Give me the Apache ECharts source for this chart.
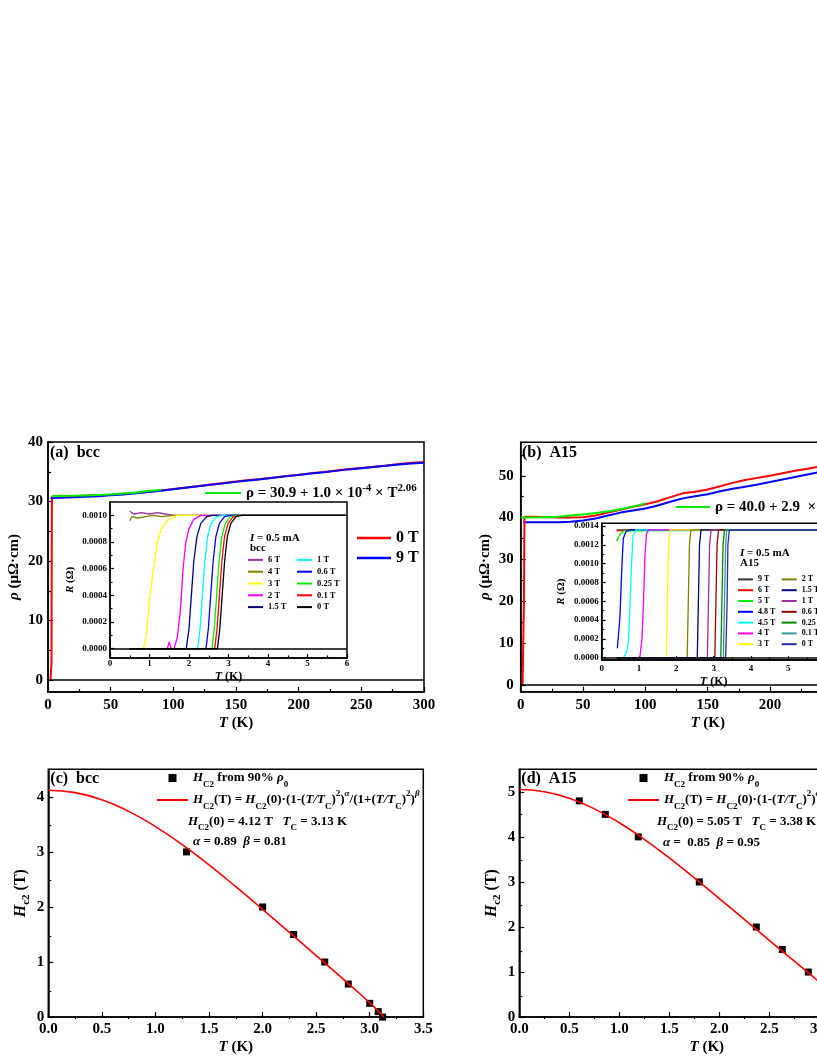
<!DOCTYPE html>
<html>
<head>
<meta charset="utf-8">
<title>rho(T) and Hc2(T) of bcc and A15</title>
<script src="https://cdn.jsdelivr.net/npm/echarts@6.0.0/dist/echarts.min.js"></script>
<style>
  html, body { margin: 0; padding: 0; width: 817px; height: 1058px; overflow: hidden; background: #fff; }
  .layer { position: absolute; left: 0; top: 0; width: 920px; height: 1058px; }
</style>
</head>
<body>
<div class="layer" id="chartA"></div>
<div class="layer" id="insetA"></div>
<div class="layer" id="chartB"></div>
<div class="layer" id="insetB"></div>
<div class="layer" id="chartC"></div>
<div class="layer" id="chartD"></div>
<script>
const FONT = '"Liberation Serif", "Times New Roman", serif'

// ---- (a) bcc : rho(T), 0 T and 9 T ----
const tempA0 = [2.0, 2.6, 2.8, 2.9, 3.0, 3.2, 10, 20, 30, 40, 50, 60, 70, 80, 90, 100, 110, 120, 130, 140, 150,
  160, 170, 180, 190, 200, 210, 220, 230, 240, 250, 260, 270, 280, 290, 300]
const rhoA0 = [0, 0, 3, 14, 27, 30.8, 30.95, 30.9, 31.0, 31.05, 31.15, 31.3, 31.45, 31.65, 31.85, 32.1, 32.35, 32.6,
  32.85, 33.1, 33.35, 33.6, 33.8, 34.05, 34.3, 34.5, 34.75, 34.95, 35.2, 35.45, 35.65, 35.85, 36.05, 36.3, 36.5, 36.65]
const tempA9 = [2, 10, 20, 30, 40, 50, 60, 70, 80, 90, 100, 110, 120, 130, 140, 150, 160, 170, 180, 190, 200,
  210, 220, 230, 240, 250, 260, 270, 280, 290, 300]
const rhoA9 = [30.6, 30.65, 30.7, 30.8, 30.9, 31.05, 31.2, 31.4, 31.6, 31.8, 32.05, 32.3, 32.55, 32.8, 33.05, 33.3,
  33.55, 33.75, 34.0, 34.25, 34.45, 34.7, 34.9, 35.15, 35.4, 35.6, 35.8, 36.0, 36.2, 36.4, 36.5]
const fitTempA = [3, 20, 40, 60, 80, 90]
const fitRhoA = [30.9, 30.95, 31.1, 31.35, 31.75, 31.95]

// ---- (b) A15 : rho(T) ----
const tempB0 = [1.5, 2.2, 2.6, 3.0, 10, 20, 30, 40, 50, 60, 70, 80, 90, 100, 110, 120, 130, 140, 150, 160, 170,
  180, 190, 200, 210, 220, 230, 240]
const rhoB0 = [0, 0, 20, 40.2, 40.2, 40.1, 40.0, 40.0, 40.1, 40.5, 41.2, 41.9, 42.6, 43.2, 43.9, 44.9, 45.8, 46.2,
  46.7, 47.5, 48.3, 49.0, 49.5, 50.0, 50.6, 51.2, 51.7, 52.2]
const tempB9 = [2, 10, 20, 30, 40, 50, 60, 70, 80, 90, 100, 110, 120, 130, 140, 150, 160, 170, 180, 190, 200,
  210, 220, 230, 240]
const rhoB9 = [38.9, 38.9, 38.9, 38.9, 39.0, 39.3, 39.8, 40.5, 41.2, 41.7, 42.2, 42.9, 43.8, 44.6, 45.1, 45.6,
  46.3, 46.9, 47.4, 47.9, 48.5, 49.1, 49.7, 50.3, 50.9]
const fitTempB = [0, 20, 40, 60, 80, 100]
const fitRhoB = [40.0, 40.1, 40.5, 41.1, 42.0, 43.4]

// ---- inset (a): R(T) of bcc at several fields, [T (K), R (ohm)] ----
const bccFields = ['6 T', '4 T', '3 T', '2 T', '1.5 T', '1 T', '0.6 T', '0.25 T', '0.1 T', '0 T']
const bcc6T = [[0.5, 0.00103], [0.6, 0.00101], [0.8, 0.00102], [1.0, 0.00101], [1.2, 0.00102], [1.4, 0.00101], [1.6, 0.001], [6, 0.001]]
const bcc4T = [[0.5, 0.00096], [0.55, 0.00099], [0.7, 0.00098], [0.9, 0.00099], [1.1, 0.001], [1.3, 0.00099], [1.6, 0.001], [6, 0.001]]
const bcc3T = [[0.5, 0], [0.85, 0], [0.92, 0.0001], [1.0, 0.00036], [1.1, 0.0006], [1.2, 0.0008], [1.3, 0.0009], [1.45, 0.00096], [1.7, 0.001], [6, 0.001]]
const bcc2T = [[0.5, 0], [1.45, 0], [1.5, 0.00005], [1.55, 0], [1.62, 0], [1.7, 0.00008], [1.78, 0.00028], [1.85, 0.0006], [1.92, 0.0008], [2.0, 0.0009], [2.12, 0.00097], [2.3, 0.001], [6, 0.001]]
const bcc15T = [[0.5, 0], [1.93, 0], [2.0, 0.00015], [2.06, 0.0004], [2.12, 0.00065], [2.2, 0.00084], [2.3, 0.00094], [2.45, 0.00099], [2.6, 0.001], [6, 0.001]]
const bcc1T = [[0.5, 0], [2.22, 0], [2.28, 0.00015], [2.34, 0.0004], [2.4, 0.00065], [2.47, 0.00084], [2.56, 0.00094], [2.7, 0.00099], [2.85, 0.001], [6, 0.001]]
const bcc06T = [[0.5, 0], [2.43, 0], [2.49, 0.00015], [2.55, 0.0004], [2.61, 0.00065], [2.68, 0.00084], [2.77, 0.00094], [2.9, 0.00099], [3.05, 0.001], [6, 0.001]]
const bcc025T = [[0.5, 0], [2.58, 0], [2.64, 0.00015], [2.7, 0.0004], [2.76, 0.00065], [2.83, 0.00084], [2.92, 0.00094], [3.05, 0.00099], [3.2, 0.001], [6, 0.001]]
const bcc01T = [[0.5, 0], [2.65, 0], [2.71, 0.00015], [2.77, 0.0004], [2.83, 0.00065], [2.9, 0.00084], [2.99, 0.00094], [3.12, 0.00099], [3.27, 0.001], [6, 0.001]]
const bcc0T = [[0.5, 0], [2.72, 0], [2.78, 0.00015], [2.84, 0.0004], [2.9, 0.00065], [2.97, 0.00084], [3.06, 0.00094], [3.19, 0.00099], [3.34, 0.001], [6, 0.001]]
const bccCurves = [bcc6T, bcc4T, bcc3T, bcc2T, bcc15T, bcc1T, bcc06T, bcc025T, bcc01T, bcc0T]

// ---- inset (b): R(T) of A15 ----
const a15Fields = ['9 T', '6 T', '5 T', '4.8 T', '4.5 T', '4 T', '3 T', '2 T', '1.5 T', '1 T', '0.6 T', '0.25 T', '0.1 T', '0 T']
const a159T = [[0.4, 0.00136], [6, 0.00136]]
const a156T = [[0.4, 0.00135], [1, 0.00136], [6, 0.00136]]
const a155T = [[0.4, 0.00124], [0.45, 0.00128], [0.5, 0.00132], [0.6, 0.00135], [6, 0.00136]]
const a1548T = [[0.42, 0.0001], [0.49, 0.00044], [0.54, 0.00097], [0.58, 0.00127], [0.65, 0.00134], [0.75, 0.00136], [6, 0.00136]]
const a1545T = [[0.4, 0], [0.58, 0], [0.66, 0.00005], [0.72, 0.00018], [0.76, 0.0006], [0.8, 0.001], [0.84, 0.0013], [0.92, 0.00136], [6, 0.00136]]
const a154T = [[0.4, 0], [1.02, 0], [1.08, 0.0002], [1.12, 0.0006], [1.16, 0.0011], [1.2, 0.00132], [1.26, 0.00136], [6, 0.00136]]
const a153T = [[0.4, 0], [1.73, 0], [1.76, 0.0006], [1.79, 0.0012], [1.83, 0.00136], [6, 0.00136]]
const a152T = [[0.4, 0], [2.29, 0], [2.32, 0.0006], [2.35, 0.0012], [2.39, 0.00136], [6, 0.00136]]
const a1515T = [[0.4, 0], [2.56, 0], [2.59, 0.0006], [2.62, 0.0012], [2.66, 0.00136], [6, 0.00136]]
const a151T = [[0.4, 0], [2.83, 0], [2.86, 0.0006], [2.89, 0.0012], [2.93, 0.00136], [6, 0.00136]]
const a1506T = [[0.4, 0], [3.03, 0], [3.06, 0.0006], [3.09, 0.0012], [3.13, 0.00136], [6, 0.00136]]
const a15025T = [[0.4, 0], [3.19, 0], [3.22, 0.0006], [3.25, 0.0012], [3.29, 0.00136], [6, 0.00136]]
const a1501T = [[0.4, 0], [3.26, 0], [3.29, 0.0006], [3.32, 0.0012], [3.35, 0.00136], [6, 0.00136]]
const a150T = [[0.4, 0], [3.32, 0], [3.36, 0.0006], [3.38, 0.0012], [3.42, 0.00136], [6, 0.00136]]
const a15Curves = [a159T, a156T, a155T, a1548T, a1545T, a154T, a153T, a152T, a1515T, a151T, a1506T, a15025T, a1501T, a150T]

// ---- (c) bcc and (d) A15 : Hc2(T) ----
const hTempC = [1.29, 2.0, 2.29, 2.58, 2.8, 3.0, 3.08, 3.12]
const hFieldC = [3.0, 2.0, 1.5, 1.0, 0.6, 0.25, 0.1, 0]
const fitHTempC = [0, 0.25, 0.5, 0.75, 1.0, 1.25, 1.5, 1.75, 2.0, 2.25, 2.5, 2.75, 2.9, 3.0, 3.1, 3.13]
const fitHFieldC = [4.12, 4.076, 3.945, 3.736, 3.46, 3.131, 2.763, 2.368, 1.957, 1.539, 1.118, 0.696, 0.438, 0.26, 0.07, 0]
const hTempD = [0.6, 0.86, 1.19, 1.8, 2.37, 2.63, 2.89]
const hFieldD = [4.8, 4.5, 4.0, 3.0, 2.0, 1.5, 1.0]
const fitHTempD = [0, 0.25, 0.5, 0.75, 1.0, 1.25, 1.5, 1.75, 2.0, 2.25, 2.5, 2.75, 3.0, 3.25, 3.38]
const fitHFieldD = [5.05, 5.0, 4.855, 4.622, 4.314, 3.946, 3.533, 3.091, 2.632, 2.167, 1.702, 1.24, 0.779, 0.301, 0]

// ---- ticks ----
const rhoTempTicks = [0, 50, 100, 150, 200, 250, 300]
const rhoTempMinor = [25, 75, 125, 175, 225, 275]
const rhoTicksA = [0, 10, 20, 30, 40]
const rhoMinorA = [5, 15, 25, 35]
const rhoTicksB = [0, 10, 20, 30, 40, 50]
const rhoMinorB = [5, 15, 25, 35, 45, 55]
const insetTempTicks = [0, 1, 2, 3, 4, 5, 6]
const insetTempMinor = [0.5, 1.5, 2.5, 3.5, 4.5, 5.5]
const rTicksA = [0, 0.0002, 0.0004, 0.0006, 0.0008, 0.001]
const rMinorA = [0.0001, 0.0003, 0.0005, 0.0007, 0.0009]
const rTicksB = [0, 0.0002, 0.0004, 0.0006, 0.0008, 0.001, 0.0012, 0.0014]
const rMinorB = [0.0001, 0.0003, 0.0005, 0.0007, 0.0009, 0.0011, 0.0013]
const hTempTicks = [0, 0.5, 1.0, 1.5, 2.0, 2.5, 3.0, 3.5]
const hTempMinor = [0.25, 0.75, 1.25, 1.75, 2.25, 2.75, 3.25]
const hTicksC = [0, 1, 2, 3, 4]
const hMinorC = [0.5, 1.5, 2.5, 3.5]
const hTicksD = [0, 1, 2, 3, 4, 5]
const hMinorD = [0.5, 1.5, 2.5, 3.5, 4.5]

const bccColors = ['#9b30a0', '#808000', '#ffff00', '#ff00ff', '#000080', '#00ffff', '#0000ff', '#00ee00', '#ff0000', '#000000']
const a15Colors = ['#333333', '#ff0000', '#00ee00', '#0000ff', '#00ffff', '#ff00ff', '#ffff00', '#808000', '#000080',
  '#993399', '#990000', '#008800', '#339999', '#2a2aaa']

function zip(xs, ys) {
  return xs.map((x, i) => [x, ys[i]])
}

function rich(fs, lh) {
  const b = { fontFamily: FONT, fontWeight: 'bold', color: '#000' }
  const s = Math.round(fs * 0.7)
  return {
    n: Object.assign({ fontSize: fs, lineHeight: lh }, b),
    i: Object.assign({ fontSize: fs, lineHeight: lh, fontStyle: 'italic' }, b),
    sb: Object.assign({ fontSize: s, lineHeight: s + 2, verticalAlign: 'bottom' }, b),
    sp: Object.assign({ fontSize: s, lineHeight: s + 2, verticalAlign: 'top' }, b),
    spi: Object.assign({ fontSize: s, lineHeight: s + 2, verticalAlign: 'top', fontStyle: 'italic' }, b)
  }
}

function label(text, left, cy, fs, lh) {
  return {
    text, left, top: cy - lh / 2, padding: 0,
    textStyle: { fontFamily: FONT, fontWeight: 'bold', fontSize: fs, lineHeight: lh, color: '#000', rich: rich(fs, lh) }
  }
}

const tickStyle = { color: '#000', width: 1.2 }

// one visible grid with major ticks + an identical hidden grid carrying the short minor ticks
function makeAxes(rect, bg, xs, ys) {
  const [l, t, w, h] = rect
  const grid = [
    { left: l, top: t, width: w, height: h, show: true, borderColor: '#000', borderWidth: 1.5, backgroundColor: bg },
    { left: l, top: t, width: w, height: h, show: false }
  ]
  const one = (s, g, pos) => {
    const base = { type: 'value', gridIndex: g, position: pos, min: s.min, max: s.max, splitLine: { show: false } }
    if (g === 1) {
      return Object.assign(base, {
        axisLine: { show: false, onZero: false },
        axisLabel: { show: false },
        axisTick: { show: true, inside: true, length: s.minorLen, customValues: s.minor, lineStyle: tickStyle }
      })
    }
    return Object.assign(base, {
      axisLine: { show: true, onZero: false, lineStyle: { color: '#000', width: 1.5 } },
      axisTick: { show: true, inside: true, length: s.len, customValues: s.ticks, lineStyle: tickStyle },
      axisLabel: {
        show: true, customValues: s.ticks, formatter: s.fmt, margin: s.margin,
        fontFamily: FONT, fontWeight: 'bold', fontSize: s.fs, color: '#000'
      },
      name: s.name, nameLocation: 'middle', nameGap: s.gap,
      nameTextStyle: { fontFamily: FONT, fontWeight: 'bold', fontSize: s.nfs, lineHeight: s.nfs + 4, color: '#000', rich: rich(s.nfs, s.nfs + 4) }
    })
  }
  return { grid, xAxis: [one(xs, 0, 'bottom'), one(xs, 1, 'bottom')], yAxis: [one(ys, 0, 'left'), one(ys, 1, 'left')] }
}

function line(name, data, color, width, extra) {
  return Object.assign({
    type: 'line', name, data, symbol: 'none', showSymbol: false, smooth: false,
    lineStyle: { color, width }, itemStyle: { color }, emphasis: { disabled: true }
  }, extra || {})
}

const zeroLine = {
  silent: true, symbol: 'none', label: { show: false },
  lineStyle: { color: '#000', width: 1.5, type: 'solid' }, data: [{ yAxis: 0 }]
}

function legendCol(names, left, top, fs, lh) {
  return {
    data: names, orient: 'vertical', left, top, padding: 0, itemGap: 0, itemWidth: 15, itemHeight: 2,
    icon: 'rect', selectedMode: false,
    textStyle: { fontFamily: FONT, fontWeight: 'bold', fontSize: fs, lineHeight: lh, color: '#000' }
  }
}

// ---------- (a) main ----------
const axA = makeAxes([48, 442, 376, 250], 'transparent',
  { min: 0, max: 300, ticks: rhoTempTicks, minor: rhoTempMinor, len: 5, minorLen: 3, fs: 15, margin: 6, name: '{i|T} (K)', gap: 18, nfs: 15 },
  { min: -2, max: 40, ticks: rhoTicksA, minor: rhoMinorA, len: 5, minorLen: 3, fs: 15, margin: 5, name: '{i|ρ} (μΩ·cm)', gap: 21, nfs: 15 })
const chartA = echarts.init(document.getElementById('chartA'))
chartA.setOption(Object.assign(axA, {
  animation: false,
  backgroundColor: 'transparent',
  title: [label('(a)  bcc', 50, 453, 16, 20)],
  legend: [
    {
      data: ['0 T', '9 T'], orient: 'vertical', left: 357, top: 528, padding: 0, itemGap: 0,
      itemWidth: 34, itemHeight: 2.5, icon: 'rect', selectedMode: false,
      textStyle: { fontFamily: FONT, fontWeight: 'bold', fontSize: 16, lineHeight: 20, color: '#000' }
    },
    {
      data: ['fitA'], left: 205, top: 483, padding: 0, itemWidth: 36, itemHeight: 2, icon: 'rect', selectedMode: false,
      formatter: () => '{n|ρ = 30.9 + 1.0 × 10}{sp|-4}{n| × T}{sp|2.06}',
      textStyle: { fontSize: 15, lineHeight: 20, rich: rich(15, 20) }
    }
  ],
  series: [
    line('0 T', zip(tempA0, rhoA0), '#ff0000', 2, { markLine: zeroLine }),
    line('9 T', zip(tempA9, rhoA9), '#0000ff', 2),
    line('fitA', zip(fitTempA, fitRhoA), '#00ee00', 2, { smooth: true })
  ]
}))

// ---------- (a) inset ----------
const axIA = makeAxes([110, 502, 237, 156], '#ffffff',
  { min: 0, max: 6, ticks: insetTempTicks, minor: insetTempMinor, len: 4, minorLen: 2.5, fs: 9, margin: 1, name: '{i|T} (K)', gap: 7, nfs: 12 },
  { min: -0.00007, max: 0.0011, ticks: rTicksA, minor: rMinorA, len: 4, minorLen: 2.5, fs: 9, margin: 3, fmt: v => v.toFixed(4), name: '{i|R} (Ω)', gap: 32, nfs: 11 })
const insetA = echarts.init(document.getElementById('insetA'))
insetA.setOption(Object.assign(axIA, {
  animation: false,
  backgroundColor: 'transparent',
  title: [label('{i|I}{n| = 0.5 mA}', 250, 538, 11, 13), label('bcc', 250, 548, 11, 13)],
  legend: [
    legendCol(bccFields.slice(0, 5), 248, 554, 8.5, 11.8),
    legendCol(bccFields.slice(5), 297, 554, 8.5, 11.8)
  ],
  series: bccCurves.map((c, i) => line(bccFields[i], c, bccColors[i], 1.3,
    i === bccCurves.length - 1 ? { markLine: zeroLine } : {}))
}))

// ---------- (b) main ----------
const axB = makeAxes([520.7, 442.3, 374, 249.4], 'transparent',
  { min: 0, max: 300, ticks: rhoTempTicks, minor: rhoTempMinor, len: 5, minorLen: 3, fs: 15, margin: 6, name: '{i|T} (K)', gap: 18, nfs: 15 },
  { min: -1.6, max: 58, ticks: rhoTicksB, minor: rhoMinorB, len: 5, minorLen: 3, fs: 15, margin: 7, name: '{i|ρ} (μΩ·cm)', gap: 21, nfs: 15 })
const chartB = echarts.init(document.getElementById('chartB'))
chartB.setOption(Object.assign(axB, {
  animation: false,
  backgroundColor: 'transparent',
  title: [label('(b)  A15', 522, 453, 16, 20)],
  legend: [{
    data: ['fitB'], left: 676, top: 497, padding: 0, itemWidth: 34, itemHeight: 2, icon: 'rect', selectedMode: false,
    formatter: () => '{n|ρ = 40.0 + 2.9  ×}',
    textStyle: { fontSize: 15, lineHeight: 20, rich: rich(15, 20) }
  }],
  series: [
    line('9 T', zip(tempB9, rhoB9), '#0000ff', 2),
    line('0 T', zip(tempB0, rhoB0), '#ff0000', 2, { markLine: zeroLine }),
    line('fitB', zip(fitTempB, fitRhoB), '#00ee00', 2, { smooth: true })
  ]
}))

// ---------- (b) inset ----------
const axIB = makeAxes([601.7, 523.3, 224, 136.7], '#ffffff',
  { min: 0, max: 6, ticks: insetTempTicks, minor: insetTempMinor, len: 4, minorLen: 2.5, fs: 9, margin: 4, name: '{i|T} (K)', gap: 9, nfs: 12 },
  { min: -0.000025, max: 0.00143, ticks: rTicksB, minor: rMinorB, len: 4, minorLen: 2.5, fs: 9, margin: 3, fmt: v => v.toFixed(4), name: '{i|R} (Ω)', gap: 33, nfs: 11 })
const insetB = echarts.init(document.getElementById('insetB'))
insetB.setOption(Object.assign(axIB, {
  animation: false,
  backgroundColor: 'transparent',
  title: [label('{i|I}{n| = 0.5 mA}', 740, 553, 11, 13), label('A15', 740, 563, 11, 13)],
  legend: [
    legendCol(a15Fields.slice(0, 7), 738, 574, 8, 10.8),
    legendCol(a15Fields.slice(7), 781.7, 574, 8, 10.8)
  ],
  series: a15Curves.map((c, i) => line(a15Fields[i], c, a15Colors[i], 1.3,
    i === a15Curves.length - 1 ? { markLine: zeroLine } : {}))
}))

// ---------- (c) and (d): Hc2 ----------
const fitText = '{i|H}{sb|C2}{n|(T) = }{i|H}{sb|C2}{n|(0)·(1-(}{i|T/T}{sb|C}{n|)}{sp|2}{n|)}{spi|α}' +
  '{n|/(1+(}{i|T/T}{sb|C}{n|)}{sp|2}{n|)}{spi|β}'
const ptsText = '{i|H}{sb|C2}{n| from 90% }{i|ρ}{sb|0}'

function hc2Option(rect, xmax, yTicks, yMinor, ymax, tag, legendLeft, params, pts, fit) {
  const ax = makeAxes(rect, 'transparent',
    { min: 0, max: xmax, ticks: hTempTicks, minor: hTempMinor, len: 5, minorLen: 3, fs: 15, margin: 5, fmt: v => v.toFixed(1), name: '{i|T} (K)', gap: 17, nfs: 15 },
    { min: 0, max: ymax, ticks: yTicks, minor: yMinor, len: 5, minorLen: 3, fs: 15, margin: 4, name: '{i|H}{sb|c2}{n| (T)}', gap: 17, nfs: 16 })
  return Object.assign(ax, {
    animation: false,
    backgroundColor: 'transparent',
    title: [label(tag, rect[0] + 2, 779, 16, 20)].concat(params),
    legend: [{
      data: [{ name: 'pts', icon: 'path://M0,0H10V10H0Z' }, { name: 'fit', icon: 'path://M0,0H40V2.6H0Z' }],
      orient: 'vertical', left: legendLeft, top: 767, padding: 0, itemGap: 0, itemWidth: 31, itemHeight: 8,
      selectedMode: false, symbolKeepAspect: true,
      formatter: n => (n === 'pts' ? ptsText : fitText),
      textStyle: { fontSize: 13, lineHeight: 22, rich: rich(13, 22) }
    }],
    series: [
      line('fit', fit, '#ff0000', 1.6, { smooth: true }),
      {
        type: 'scatter', name: 'pts', data: pts, symbol: 'rect', symbolSize: 7,
        itemStyle: { color: '#000', opacity: 1 }, emphasis: { disabled: true }
      }
    ]
  })
}

const chartC = echarts.init(document.getElementById('chartC'))
chartC.setOption(hc2Option([48.3, 769.3, 375, 249.7], 3.5, hTicksC, hMinorC, 4.5, '(c)  bcc', 157, [
  label('{i|H}{sb|C2}{n|(0) = 4.12 T   }{i|T}{sb|C}{n| = 3.13 K}', 188, 822, 13, 20),
  label('{i|α}{n| = 0.89  }{i|β}{n| = 0.81}', 193, 842, 13, 20)
], zip(hTempC, hFieldC), zip(fitHTempC, fitHFieldC)))

const chartD = echarts.init(document.getElementById('chartD'))
chartD.setOption(hc2Option([519.3, 769.3, 375, 249.7], 3.75, hTicksD, hMinorD, 5.5, '(d)  A15', 628, [
  label('{i|H}{sb|C2}{n|(0) = 5.05 T   }{i|T}{sb|C}{n| = 3.38 K}', 657, 822, 13, 20),
  label('{i|α}{n| =  0.85  }{i|β}{n| = 0.95}', 663, 843, 13, 20)
], zip(hTempD, hFieldD), zip(fitHTempD, fitHFieldD)))
</script>
</body>
</html>
